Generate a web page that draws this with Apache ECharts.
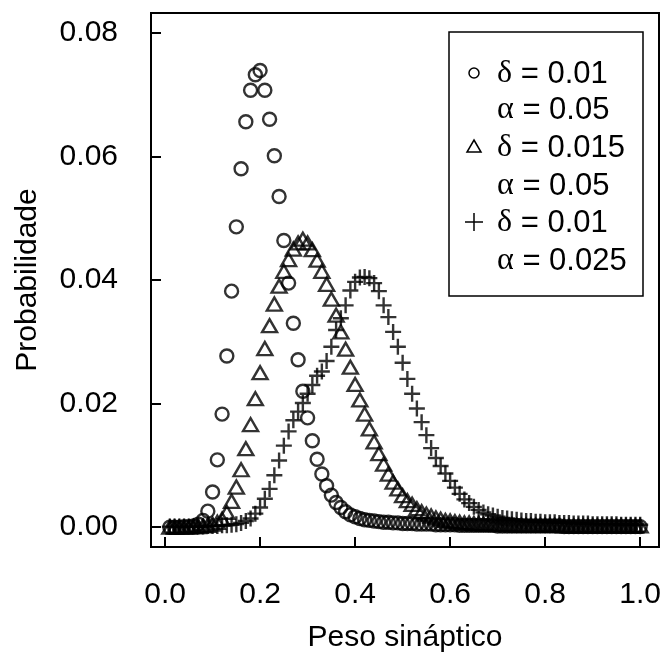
<!DOCTYPE html>
<html>
<head>
<meta charset="utf-8">
<script src="https://cdn.jsdelivr.net/npm/echarts@6/dist/echarts.min.js"></script>
<style>html,body{margin:0;padding:0;background:#fff}#c{width:667px;height:659px}</style>
</head>
<body>
<div id="c"></div>
<script>
var peso = [0.01,0.02,0.03,0.04,0.05,0.06,0.07,0.08,0.09,0.10,
0.11,0.12,0.13,0.14,0.15,0.16,0.17,0.18,0.19,0.20,
0.21,0.22,0.23,0.24,0.25,0.26,0.27,0.28,0.29,0.30,
0.31,0.32,0.33,0.34,0.35,0.36,0.37,0.38,0.39,0.40,
0.41,0.42,0.43,0.44,0.45,0.46,0.47,0.48,0.49,0.50,
0.51,0.52,0.53,0.54,0.55,0.56,0.57,0.58,0.59,0.60,
0.61,0.62,0.63,0.64,0.65,0.66,0.67,0.68,0.69,0.70,
0.71,0.72,0.73,0.74,0.75,0.76,0.77,0.78,0.79,0.80,
0.81,0.82,0.83,0.84,0.85,0.86,0.87,0.88,0.89,0.90,
0.91,0.92,0.93,0.94,0.95,0.96,0.97,0.98,0.99,1.00];

// delta = 0.01, alpha = 0.05 (circles)
var probCirc = [0.0000,0.0000,0.0000,0.0001,0.0001,0.0002,0.0005,0.0011,0.0026,0.0057,
0.0109,0.0183,0.0277,0.0382,0.0486,0.0580,0.0656,0.0707,0.0732,0.0739,
0.0707,0.0660,0.0601,0.0535,0.0464,0.0395,0.0330,0.0271,0.0220,0.0177,
0.0140,0.0110,0.0086,0.0067,0.0052,0.0040,0.0032,0.0025,0.0020,0.0017,
0.0014,0.0012,0.0011,0.0010,0.0009,0.0008,0.0008,0.0007,0.0007,0.0006,
0.0006,0.0006,0.0005,0.0005,0.0005,0.0005,0.0004,0.0004,0.0004,0.0004,
0.0004,0.0003,0.0003,0.0003,0.0003,0.0003,0.0003,0.0003,0.0003,0.0002,
0.0002,0.0002,0.0002,0.0002,0.0002,0.0002,0.0002,0.0002,0.0002,0.0002,
0.0002,0.0002,0.0002,0.0001,0.0001,0.0001,0.0001,0.0001,0.0001,0.0001,
0.0001,0.0001,0.0001,0.0001,0.0001,0.0001,0.0001,0.0001,0.0001,0.0001];

// delta = 0.015, alpha = 0.05 (triangles)
var probTri = [0.0000,0.0000,0.0000,0.0000,0.0000,0.0001,0.0001,0.0002,0.0003,0.0005,
0.0008,0.0013,0.0024,0.0042,0.0065,0.0093,0.0127,0.0166,0.0208,0.0250,
0.0289,0.0326,0.0361,0.0390,0.0414,0.0433,0.0450,0.0460,0.0466,0.0460,
0.0449,0.0432,0.0414,0.0393,0.0369,0.0343,0.0316,0.0288,0.0259,0.0231,
0.0206,0.0183,0.0159,0.0138,0.0119,0.0102,0.0086,0.0073,0.0062,0.0051,
0.0043,0.0037,0.0030,0.0025,0.0021,0.0018,0.0015,0.0013,0.0011,0.0010,
0.0009,0.0008,0.0007,0.0007,0.0006,0.0006,0.0005,0.0005,0.0005,0.0004,
0.0004,0.0004,0.0004,0.0003,0.0003,0.0003,0.0003,0.0003,0.0003,0.0003,
0.0003,0.0003,0.0003,0.0002,0.0002,0.0002,0.0002,0.0002,0.0002,0.0002,
0.0002,0.0002,0.0002,0.0002,0.0002,0.0002,0.0002,0.0002,0.0002,0.0002];

// delta = 0.01, alpha = 0.025 (crosses)
var probCross = [0.0001,0.0001,0.0001,0.0001,0.0001,0.0001,0.0001,0.0001,0.0002,0.0002,
0.0002,0.0003,0.0003,0.0004,0.0005,0.0007,0.0010,0.0014,0.0022,0.0032,
0.0046,0.0062,0.0084,0.0108,0.0132,0.0155,0.0173,0.0187,0.0201,0.0216,
0.0230,0.0245,0.0252,0.0269,0.0292,0.0319,0.0338,0.0359,0.0383,0.0397,
0.0404,0.0405,0.0403,0.0395,0.0382,0.0359,0.0340,0.0316,0.0292,0.0266,
0.0240,0.0216,0.0192,0.0170,0.0149,0.0128,0.0112,0.0099,0.0087,0.0075,
0.0064,0.0054,0.0045,0.0039,0.0033,0.0028,0.0024,0.0021,0.0019,0.0017,
0.0015,0.0014,0.0013,0.0012,0.0011,0.0010,0.0010,0.0009,0.0009,0.0008,
0.0008,0.0008,0.0007,0.0007,0.0007,0.0006,0.0006,0.0006,0.0006,0.0005,
0.0005,0.0005,0.0005,0.0005,0.0005,0.0004,0.0004,0.0004,0.0004,0.0004];

var xTicks = [0.0,0.2,0.4,0.6,0.8,1.0];
var yTicks = [0.00,0.02,0.04,0.06,0.08];

function pairs(ys){ return peso.map(function(x,i){ return [x, ys[i]]; }); }

var FONT = 'Liberation Sans, Arial, sans-serif';
var chart = echarts.init(document.getElementById('c'), null, {renderer:'canvas'});

var GL = 151, GR = 8, GT = 13, GB = 112;
var GW = 667 - GL - GR, GH = 659 - GT - GB;
var XMIN = -0.0296, XMAX = 1.0396, YMIN = -0.0032, YMAX = 0.0832;

var mk = {color:'rgba(0,0,0,0)', borderColor:'#000', borderWidth:2.4};
var legTxt = {
  g:{fontFamily:'Liberation Serif, DejaVu Serif, serif', fontSize:32, fill:'#000'},
  t:{fontFamily:FONT, fontSize:31, fill:'#000'}
};
function legText(x, y, greek, rest){
  return {type:'text', z:101, style:{
    x:x, y:y,
    text:'{g|'+greek+'}{t| = '+rest+'}', rich:legTxt, verticalAlign:'middle', align:'left'
  }};
}
var tickStyle = {color:'#000', width:2};

var option = {
  animation:false,
  backgroundColor:'#fff',
  grid:{left:GL, right:GR, top:GT, bottom:GB, show:true, borderColor:'#000', borderWidth:2, backgroundColor:'transparent'},
  xAxis:[{
    type:'value', min:XMIN, max:XMAX, position:'bottom',
    name:'Peso sináptico', nameLocation:'middle', nameGap:76,
    nameTextStyle:{fontFamily:FONT, fontSize:30, color:'#000'},
    axisLine:{show:false, onZero:false},
    splitLine:{show:false},
    axisTick:{show:false},
    axisLabel:{fontFamily:FONT, fontSize:30, color:'#000', margin:33, customValues:xTicks,
      formatter:function(v){ return v.toFixed(1); }}
  },{
    type:'value', min:XMIN, max:XMAX, position:'top', offset:-GH,
    axisLine:{show:false, onZero:false},
    splitLine:{show:false},
    axisLabel:{show:false},
    axisTick:{show:true, length:10, lineStyle:tickStyle, customValues:xTicks}
  }],
  yAxis:[{
    type:'value', min:YMIN, max:YMAX, position:'left',
    name:'Probabilidade', nameLocation:'middle', nameGap:108, nameRotate:90,
    nameTextStyle:{fontFamily:FONT, fontSize:30, color:'#000'},
    axisLine:{show:false, onZero:false},
    splitLine:{show:false},
    axisTick:{show:false},
    axisLabel:{fontFamily:FONT, fontSize:30, color:'#000', margin:33, customValues:yTicks,
      formatter:function(v){ return v.toFixed(2); }}
  },{
    type:'value', min:YMIN, max:YMAX, position:'right', offset:-GW,
    axisLine:{show:false, onZero:false},
    splitLine:{show:false},
    axisLabel:{show:false},
    axisTick:{show:true, length:10, lineStyle:tickStyle, customValues:yTicks}
  }],
  series:[
    {type:'scatter', name:'c', data:pairs(probCirc), symbol:'circle', symbolSize:13, itemStyle:mk, emphasis:{disabled:true}},
    {type:'scatter', name:'t', data:pairs(probTri), symbol:'triangle', symbolSize:[15,13], itemStyle:mk, emphasis:{disabled:true}},
    {type:'scatter', name:'p', data:pairs(probCross), symbol:'path://M0,5L10,5M5,0L5,10', symbolSize:16, itemStyle:mk, emphasis:{disabled:true}}
  ],
  graphic:[
    {type:'rect', shape:{x:449, y:32, width:194, height:264}, style:{fill:'#fff', stroke:'#000', lineWidth:1.5}, z:100},
    {type:'circle', shape:{cx:474, cy:73, r:5}, style:{fill:'none', stroke:'#000', lineWidth:1.5}, z:101},
    {type:'polygon', shape:{points:[[474,140],[481,152],[467,152]]}, style:{fill:'none', stroke:'#000', lineWidth:1.5}, z:101},
    {type:'line', shape:{x1:465, y1:222, x2:483, y2:222}, style:{stroke:'#000', lineWidth:1.5}, z:101},
    {type:'line', shape:{x1:474, y1:213, x2:474, y2:231}, style:{stroke:'#000', lineWidth:1.5}, z:101},
    legText(497, 74, 'δ', '0.01'),
    legText(497, 110, 'α', '0.05'),
    legText(497, 148, 'δ', '0.015'),
    legText(497, 186, 'α', '0.05'),
    legText(497, 223, 'δ', '0.01'),
    legText(497, 261, 'α', '0.025')
  ]
};
chart.setOption(option);
</script>
</body>
</html>
